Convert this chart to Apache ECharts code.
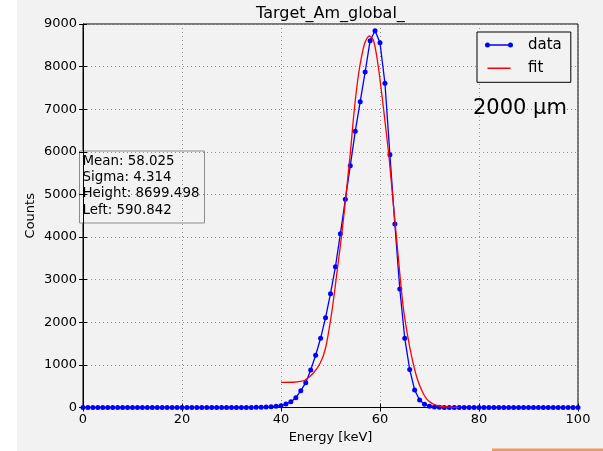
<!DOCTYPE html>
<html>
<head>
<meta charset="utf-8">
<script src="https://cdn.jsdelivr.net/npm/echarts@6/dist/echarts.min.js"></script>
<style>
  html, body { margin: 0; padding: 0; background: #f2f2f2; }
  #chart { width: 603px; height: 451px; }
</style>
</head>
<body>
<div id="chart"></div>
<script>
// Measured spectrum: counts per 1 keV bin, energies 0..100 keV
const energies = Array.from({ length: 101 }, (_, i) => i);
const counts = [
  0, 0, 0, 0, 0, 0, 0, 0, 0, 0,
  0, 0, 0, 0, 0, 0, 0, 0, 0, 0,
  0, 0, 0, 0, 0, 0, 0, 0, 0, 0,
  0, 0, 0, 1, 2, 4, 6, 10, 15, 28,
  42, 82, 136, 230, 394, 582, 880, 1225, 1624, 2107,
  2671, 3304, 4079, 4886, 5675, 6482, 7177, 7874, 8608, 8843,
  8561, 7608, 5933, 4307, 2781, 1624, 894, 411, 176, 75,
  30, 12, 5, 2, 1, 0, 0, 0, 0, 0,
  0, 0, 0, 0, 0, 0, 0, 0, 0, 0,
  0, 0, 0, 0, 0, 0, 0, 0, 0, 0,
  0
];

// Fitted peak curve
const fitEnergy = [40, 42.5, 44, 44.9, 46.5, 47.9, 48.9, 49.8, 50.6, 51.45, 52.3, 53.1, 54.0, 54.8, 55.7, 56.9,
  57.85, 58.65, 59.46, 60.34, 61.21, 61.88, 62.75, 63.36, 64.02, 64.7, 65.5, 66.4, 67.4, 68.4, 69.4, 70.2,
  71.0, 72.1, 73.0, 74.0, 75.0, 76.0];
const fitCounts = [591, 593, 612, 645, 803, 1037, 1350, 1897, 2523, 3305, 4088, 4950, 5966, 6982, 7850, 8547,
  8718, 8624, 8155, 7374, 6512, 5808, 4700, 3950, 3120, 2350, 1741, 1192, 723, 411, 200, 120,
  70, 35, 18, 8, 3, 1];

// Fit parameters shown in the info box
const fitInfo = ['Mean: 58.025', 'Sigma: 4.314', 'Height: 8699.498', 'Left: 590.842'];

const xTicks = { min: 0, max: 100, interval: 20 };
const yTicks = { min: 0, max: 9000, interval: 1000 };

const FONT = 'DejaVu Sans';
const BG = '#f2f2f2';

const dataPoints = energies.map((e, i) => [e, counts[i]]);
const fitPoints = fitEnergy.map((e, i) => [e, fitCounts[i]]);

const gridLine = { show: true, lineStyle: { color: '#909090', width: 1, type: [1, 3] } };
const tickIn = { show: true, inside: true, length: 4, lineStyle: { color: '#000', width: 1 } };
const labelStyle = { color: '#000', fontFamily: FONT, fontSize: 13, formatter: v => String(v) };

const chart = echarts.init(document.getElementById('chart'), null, { renderer: 'canvas' });

chart.setOption({
  backgroundColor: BG,
  animation: false,
  title: {
    text: 'Target_Am_global_',
    left: 251,
    top: 1,
    textStyle: { color: '#000', fontFamily: FONT, fontSize: 16, fontWeight: 'normal' }
  },
  grid: {
    left: 83, right: 25, top: 24, bottom: 43.5,
    show: true, borderColor: '#000', borderWidth: 1, backgroundColor: BG
  },
  legend: {
    orient: 'vertical',
    left: 477, top: 32,
    padding: [4, 9, 5, 8],
    itemWidth: 28, itemHeight: 5, itemGap: 5.3,
    backgroundColor: BG,
    borderColor: '#000', borderWidth: 1,
    itemStyle: { borderWidth: 0 },
    textStyle: { color: '#000', fontFamily: FONT, fontSize: 15, lineHeight: 18, padding: [0, 0, 0, 10] },
    data: [
      { name: 'data', icon: 'path://M5,1.75H23V3.25H5Z M0,2.5A2.5,2.5,0,1,0,5,2.5A2.5,2.5,0,1,0,0,2.5Z M23,2.5A2.5,2.5,0,1,0,28,2.5A2.5,2.5,0,1,0,23,2.5Z' },
      { name: 'fit', icon: 'path://M2.5,1.75H25.5V3.25H2.5Z M0,0H0.01V0.01H0Z M27.99,4.99H28V5H27.99Z' }
    ]
  },
  xAxis: [
    {
      type: 'value', position: 'bottom',
      min: xTicks.min, max: xTicks.max, interval: xTicks.interval,
      name: 'Energy [keV]', nameLocation: 'middle', nameGap: 24,
      nameTextStyle: { color: '#000', fontFamily: FONT, fontSize: 13 },
      axisLine: { show: true, onZero: false, lineStyle: { color: '#000', width: 1 } },
      axisTick: tickIn,
      axisLabel: Object.assign({ margin: 6, showMaxLabel: true, showMinLabel: true }, labelStyle),
      splitLine: gridLine
    },
    {
      type: 'value', position: 'top',
      min: xTicks.min, max: xTicks.max, interval: xTicks.interval,
      axisLine: { show: false }, axisTick: tickIn,
      axisLabel: { show: false }, splitLine: { show: false }
    }
  ],
  yAxis: [
    {
      type: 'value', position: 'left',
      min: yTicks.min, max: yTicks.max, interval: yTicks.interval,
      name: 'Counts', nameLocation: 'middle', nameGap: 46, nameMoveOverlap: false,
      nameTextStyle: { color: '#000', fontFamily: FONT, fontSize: 13 },
      axisLine: { show: true, onZero: false, lineStyle: { color: '#000', width: 1 } },
      axisTick: tickIn,
      axisLabel: Object.assign({ margin: 6, showMaxLabel: true, showMinLabel: true }, labelStyle),
      splitLine: gridLine
    },
    {
      type: 'value', position: 'right',
      min: yTicks.min, max: yTicks.max, interval: yTicks.interval,
      axisLine: { show: false }, axisTick: tickIn,
      axisLabel: { show: false }, splitLine: { show: false }
    }
  ],
  series: [
    {
      name: 'data', type: 'line',
      xAxisIndex: 0, yAxisIndex: 0,
      data: dataPoints,
      showSymbol: true, showAllSymbol: true,
      symbol: 'circle', symbolSize: 5,
      itemStyle: { color: '#0000ff', borderWidth: 0 },
      lineStyle: { color: '#0000ff', width: 1.3 },
      z: 3
    },
    {
      name: 'fit', type: 'line',
      xAxisIndex: 0, yAxisIndex: 0,
      data: fitPoints,
      smooth: 0.3,
      symbol: 'none',
      itemStyle: { color: '#ff0000' },
      lineStyle: { color: '#ff0000', width: 1.3 },
      z: 4
    }
  ],
  graphic: [
    // white strip along the left edge of the figure
    { type: 'rect', left: 0, top: 0, shape: { width: 17, height: 451 }, style: { fill: '#ffffff' }, z: -1, silent: true },
    // fit parameter box
    {
      type: 'group', left: 79, top: 150.5, z: 100,
      children: [
        { type: 'rect', shape: { x: 0.5, y: 0.5, width: 125, height: 72 }, style: { fill: BG, stroke: '#8c8c8c', lineWidth: 1 } },
        {
          type: 'text', x: 3.5, y: 2.5,
          style: { text: fitInfo.join('\n'), fill: '#000', font: '13.4px "DejaVu Sans"', lineHeight: 16.3 }
        }
      ]
    },
    // sample thickness annotation
    {
      type: 'text', left: 473, top: 98, z: 100,
      style: { text: '2000 µm', fill: '#000', font: '21px "DejaVu Sans"' }
    },
    // orange strip at the bottom right
    { type: 'rect', left: 492, top: 448.5, shape: { width: 111, height: 2.5 }, style: { fill: '#ef9a5f' }, z: 100, silent: true }
  ]
});
</script>
</body>
</html>
